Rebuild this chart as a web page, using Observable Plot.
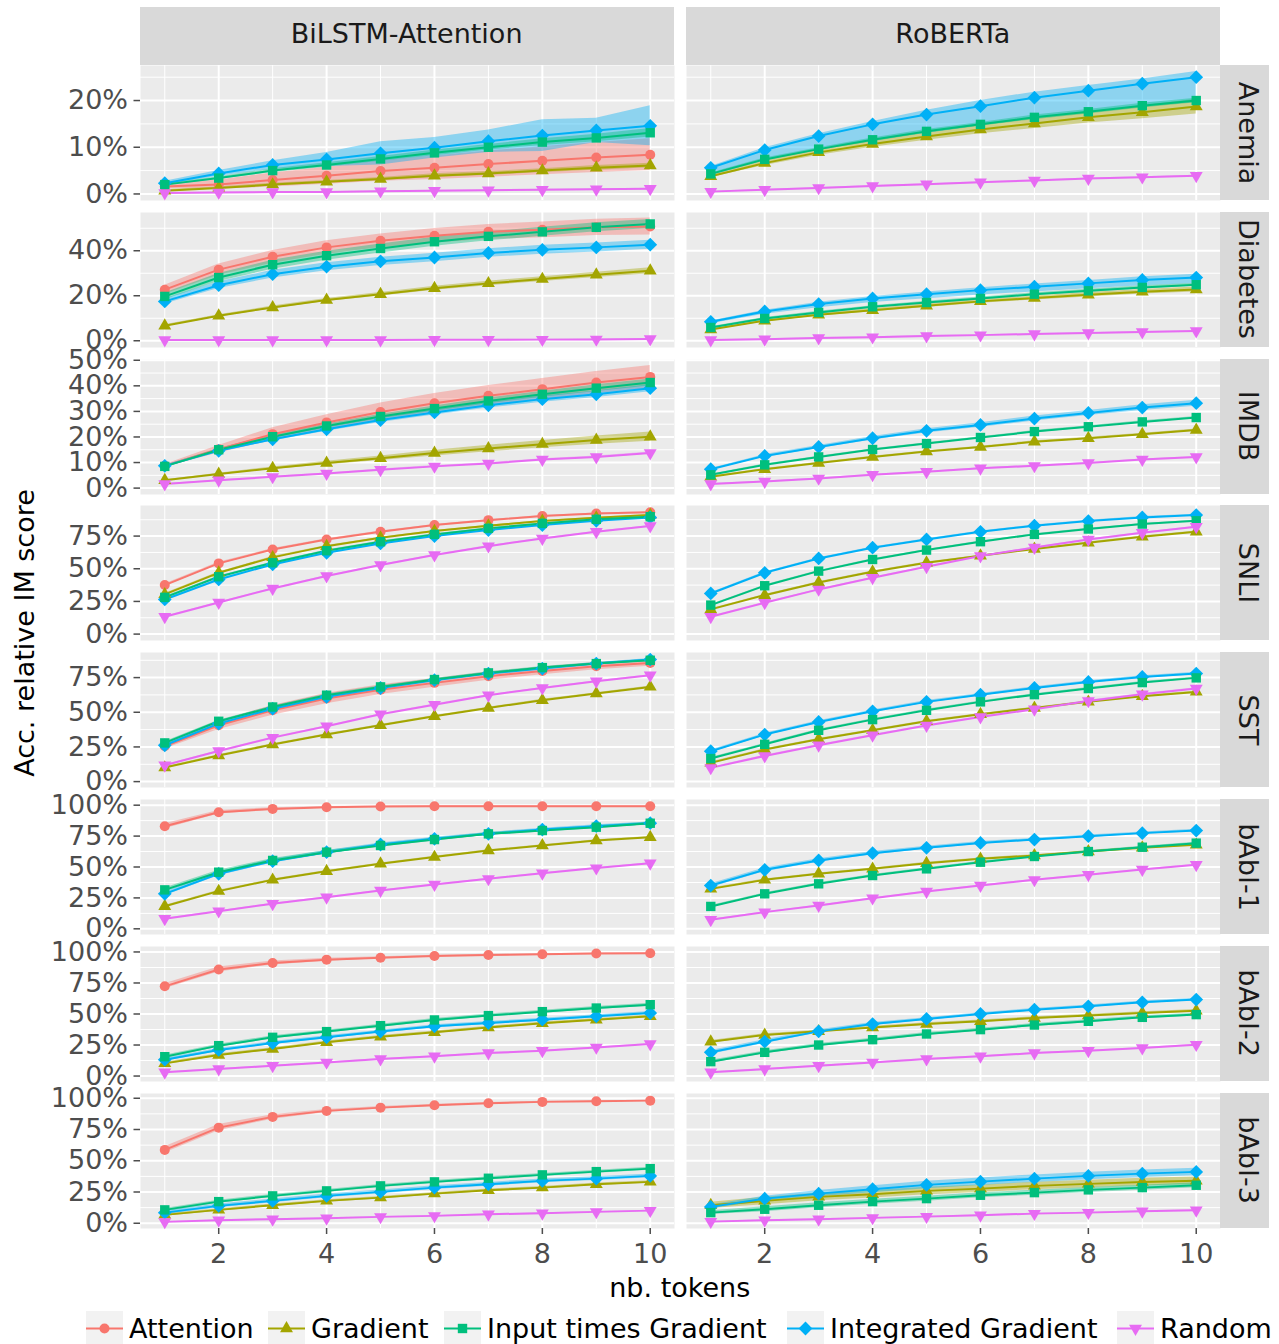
<!DOCTYPE html>
<html><head><meta charset="utf-8">
<script src="https://cdn.jsdelivr.net/npm/d3@7"></script>
<script src="https://cdn.jsdelivr.net/npm/@observablehq/plot@0.6"></script>
<style>
body{margin:0;background:#fff;font-family:"DejaVu Sans",sans-serif;}
#root{position:relative;width:1279px;height:1344px;overflow:hidden;}
.strip{position:absolute;background:#D9D9D9;color:#1A1A1A;font-size:27px;box-sizing:border-box;}
.lbl{position:absolute;font-size:27px;line-height:31px;white-space:nowrap;}
.leg{position:absolute;top:1311px;display:flex;align-items:center;height:35px;font-size:27px;line-height:35px;white-space:nowrap;color:#000;}
.leg svg{display:block;margin-right:6px;}
</style></head><body><div id="root"></div>
<script>
// ---------- categories ----------
const methods = ["Attention","Gradient","Input times Gradient","Integrated Gradient","Random"];
const colors = ["#F8766D","#A3A500","#00BF7D","#00B0F6","#E76BF3"];
const models = ["BiLSTM-Attention","RoBERTa"];
const datasets = ["Anemia","Diabetes","IMDB","SNLI","SST","bAbI-1","bAbI-2","bAbI-3"];
const tokens = [1,2,3,4,5,6,7,8,9,10];
const xTicks = [2,4,6,8,10];

// ---------- y tick labels (percent) ----------
const anemiaTicks = [0,10,20];
const diabetesTicks = [0,20,40];
const imdbTicks = [0,10,20,30,40,50];
const snliTicks = [0,25,50,75];
const sstTicks = [0,25,50,75];
const babiTicks = [0,25,50,75,100];

// ---------- series means (rows: Attention, Gradient, Input times Gradient, Integrated Gradient, Random) ----------
const anemia_bilstm = [
 [1.6,2.0,3.0,3.9,4.9,5.6,6.4,7.1,7.8,8.4],
 [0.7,1.3,2.0,2.6,3.2,3.9,4.4,5.0,5.6,6.1],
 [2.0,3.4,5.0,6.2,7.5,8.8,10.0,11.1,12.0,13.1],
 [2.3,4.4,6.2,7.4,8.7,9.9,11.3,12.5,13.6,14.6],
 [0.2,0.3,0.4,0.4,0.6,0.7,0.8,0.9,1.0,1.1]];
const anemia_roberta = [null,
 [3.8,6.6,8.9,10.7,12.3,13.8,15.1,16.4,17.5,18.7],
 [4.3,7.4,9.6,11.6,13.4,14.9,16.4,17.6,18.9,20.0],
 [5.6,9.4,12.4,14.9,17.0,18.8,20.6,22.1,23.6,25.0],
 [0.5,0.9,1.3,1.7,2.1,2.5,2.9,3.3,3.6,3.9]];
const diabetes_bilstm = [
 [22.7,31.6,37.3,41.5,44.4,46.7,48.4,49.3,50.4,50.8],
 [6.7,11.1,14.8,18.1,20.7,23.3,25.5,27.4,29.3,31.1],
 [19.7,28.1,33.8,37.8,41.0,44.0,46.4,48.4,50.4,51.9],
 [17.5,24.7,29.6,32.9,35.3,37.0,39.0,40.4,41.5,42.7],
 [0.3,0.3,0.3,0.3,0.3,0.4,0.4,0.5,0.6,0.8]];
const diabetes_roberta = [null,
 [5.0,8.9,11.6,13.6,15.6,17.5,19.0,20.4,21.8,22.8],
 [5.9,9.9,12.6,15.1,17.0,18.8,20.7,22.2,23.7,24.9],
 [8.4,13.0,16.3,18.8,20.7,22.5,24.0,25.5,27.0,28.1],
 [0.3,0.7,1.2,1.6,2.1,2.5,3.0,3.4,3.9,4.3]];
const imdb_bilstm = [
 [8.7,15.2,21.1,25.7,29.8,33.2,36.1,38.7,41.3,43.5],
 [3.1,5.5,7.8,9.8,11.7,13.7,15.5,17.2,18.8,20.1],
 [8.5,15.0,20.1,24.3,28.0,31.1,34.1,36.7,39.1,41.3],
 [8.7,14.6,19.1,23.0,26.6,29.6,32.4,34.8,36.7,39.1],
 [1.6,3.1,4.4,5.7,7.2,8.5,9.6,11.2,12.2,13.7]];
const imdb_roberta = [null,
 [4.4,7.4,9.8,12.2,14.3,16.1,18.1,19.5,21.1,22.7],
 [5.2,9.1,12.2,15.1,17.4,19.8,22.1,24.0,25.9,27.6],
 [7.4,12.6,16.1,19.5,22.4,24.7,27.2,29.4,31.5,33.2],
 [1.6,2.6,3.8,5.2,6.4,7.8,8.7,9.8,11.2,12.2]];
const snli_bilstm = [
 [37.5,54.1,64.8,72.4,78.3,83.4,87.2,90.3,92.3,93.2],
 [30.4,46.9,58.7,67.3,73.7,78.8,82.9,86.5,89.0,91.1],
 [28.1,43.9,54.6,63.8,70.7,76.3,80.9,84.7,87.8,89.8],
 [26.5,41.8,53.3,62.2,69.4,75.0,79.6,83.4,86.7,89.3],
 [13.3,24.2,34.9,44.4,52.8,60.5,67.3,73.2,78.3,82.7]];
const snli_roberta = [null,
 [18.9,29.8,39.5,47.7,54.6,59.9,65.1,69.9,74.5,78.3],
 [22.2,37.0,48.2,57.1,64.3,70.7,76.3,80.4,84.2,86.7],
 [31.1,46.9,57.9,66.1,72.4,78.3,82.9,86.5,89.3,91.1],
 [13.3,24.0,34.2,43.1,51.5,59.7,66.3,72.4,77.6,82.1]];
const sst_bilstm = [
 [25.5,40.6,51.4,59.9,66.3,71.2,76.0,79.8,83.2,85.6],
 [10.1,18.8,26.7,33.9,40.6,47.1,53.1,58.7,63.5,68.3],
 [27.9,43.5,53.8,62.3,68.3,73.6,78.4,82.2,85.1,87.5],
 [26.2,41.8,52.6,61.1,67.5,73.1,77.9,81.5,85.1,88.0],
 [11.8,22.1,31.7,39.9,48.6,55.5,62.3,67.5,72.4,76.7]];
const sst_roberta = [null,
 [13.5,23.1,30.5,37.0,43.5,48.6,53.1,57.5,61.5,64.7],
 [16.6,26.9,37.0,44.7,51.4,57.5,62.7,67.1,71.4,74.8],
 [21.9,33.9,43.0,50.7,57.5,62.7,67.5,71.9,75.5,77.9],
 [9.9,18.5,26.2,33.4,40.4,46.6,52.2,58.2,63.0,67.1]];
const babi1_bilstm = [
 [83.0,94.3,97.0,98.4,98.9,99.2,99.2,99.2,99.2,99.2],
 [18.3,30.5,39.6,46.6,52.6,58.0,63.3,67.4,71.4,74.1],
 [31.5,45.8,55.3,62.0,67.4,72.2,76.8,79.5,82.2,85.4],
 [28.3,44.5,54.7,62.0,68.2,72.8,76.8,80.3,83.0,85.4],
 [8.1,14.3,20.2,25.6,31.0,35.8,40.4,45.0,49.1,53.1]];
const babi1_roberta = [null,
 [32.3,39.6,44.5,48.5,53.1,56.6,59.3,62.5,65.5,67.9],
 [18.1,28.3,36.4,43.1,48.5,53.9,58.5,62.5,66.0,69.3],
 [35.0,47.7,55.3,61.2,65.5,69.5,72.2,74.9,77.4,79.5],
 [7.3,13.5,18.9,24.8,30.2,35.0,39.6,43.7,48.0,51.8]];
const babi2_bilstm = [
 [72.3,85.8,91.1,93.8,95.4,96.8,97.6,98.1,98.7,98.9],
 [10.2,16.9,21.8,27.2,31.7,35.2,39.2,42.5,45.4,48.1],
 [15.6,24.5,31.2,35.8,40.6,45.2,48.7,51.9,54.8,57.5],
 [13.2,21.0,26.6,31.2,35.8,40.1,42.7,45.4,48.1,50.8],
 [3.0,5.6,8.3,11.0,13.7,15.9,18.5,20.4,23.1,25.8]];
const babi2_roberta = [null,
 [27.7,33.1,36.0,39.2,41.9,44.1,46.8,48.7,50.8,52.7],
 [11.6,19.1,25.0,29.3,33.9,37.4,41.1,44.1,47.3,49.5],
 [19.1,27.7,36.0,41.9,46.0,50.0,53.5,56.2,59.4,61.6],
 [3.0,5.6,8.3,11.0,13.7,15.9,18.5,20.4,22.6,25.3]];
const babi3_bilstm = [
 [58.7,76.5,85.1,89.9,92.5,94.4,96.0,97.1,97.6,98.1],
 [6.7,10.7,14.4,17.9,20.5,23.7,26.4,28.5,31.2,33.1],
 [10.7,17.3,21.9,25.9,29.9,33.1,36.0,38.7,41.3,43.7],
 [8.5,13.9,17.9,21.9,25.1,28.5,31.2,33.9,35.7,37.9],
 [1.1,2.4,3.2,4.0,5.1,5.9,7.2,8.0,9.1,10.1]];
const babi3_roberta = [null,
 [14.4,17.9,21.1,23.2,25.9,27.7,29.9,31.5,33.0,34.0],
 [8.5,11.2,14.4,17.3,19.7,22.4,24.5,26.7,28.5,30.4],
 [13.1,19.7,23.7,27.2,30.7,33.3,35.7,37.9,39.7,41.1],
 [1.3,2.4,3.2,4.3,5.3,6.4,7.7,8.5,9.6,10.4]];

// ---------- confidence band half-widths (upper; lower too unless a *_ciLo row is given) ----------
const anemia_bilstm_ci = [
 [0.5,1.0,1.5,1.8,2.2,2.5,2.8,3.0,3.2,3.4],
 [0.2,0.2,0.3,0.3,0.3,0.4,0.4,0.4,0.5,0.5],
 [0.2,0.3,0.4,0.5,0.5,0.6,0.6,0.7,0.8,0.9],
 [0.4,0.6,0.9,1.5,2.5,2.2,2.4,3.4,2.6,4.3],
 [0.1,0.1,0.1,0.1,0.1,0.1,0.1,0.1,0.1,0.1]];
const anemia_roberta_ci = [null,
 [0.3,0.5,0.6,0.7,0.8,0.9,1.1,1.2,1.4,1.6],
 [0.2,0.3,0.3,0.4,0.4,0.4,0.5,0.5,0.5,0.5],
 [0.3,0.5,0.5,0.6,0.9,1.2,1.2,1.1,1.0,1.2],
 [0.1,0.1,0.1,0.1,0.1,0.1,0.1,0.1,0.1,0.1]];
const anemia_roberta_ciLo = [null,null,null,
 [1.7,2.3,2.8,3.5,4.0,4.2,4.5,4.6,4.9,5.4],null];
const diabetes_bilstm_ci = [
 [2.0,2.5,2.8,3.0,3.0,3.2,3.3,3.5,3.6,3.8],
 [0.4,0.5,0.6,0.7,0.8,0.9,1.0,1.1,1.2,1.3],
 [1.5,1.8,2.0,2.0,2.0,2.0,2.0,2.0,2.0,2.0],
 [1.2,1.5,1.7,1.8,1.8,1.9,1.9,2.0,2.0,2.0],
 [0.2,0.2,0.2,0.2,0.2,0.2,0.2,0.2,0.2,0.2]];
const diabetes_roberta_ci = [null,
 [0.3,0.5,0.6,0.7,0.8,0.8,0.9,1.0,1.0,1.1],
 [0.3,0.4,0.5,0.5,0.6,0.6,0.6,0.7,0.7,0.7],
 [0.4,0.6,0.8,0.9,1.0,1.1,1.2,1.3,1.4,1.5],
 [0.2,0.2,0.2,0.2,0.2,0.2,0.2,0.2,0.2,0.2]];
const diabetes_roberta_ciLo = [null,null,null,
 [0.8,1.2,1.6,1.8,2.0,2.2,2.3,2.4,2.5,2.6],null];
const imdb_bilstm_ci = [
 [0.5,1.5,2.5,3.0,3.5,3.8,4.0,4.2,4.3,4.5],
 [0.2,0.3,0.5,0.7,0.9,1.1,1.3,1.4,1.6,1.8],
 [0.3,0.5,0.7,0.8,0.9,1.0,1.1,1.2,1.3,1.4],
 [0.3,0.5,0.7,0.8,0.9,1.0,1.1,1.2,1.3,1.4],
 [0.1,0.2,0.2,0.2,0.3,0.3,0.3,0.3,0.4,0.4]];
const imdb_roberta_ci = [null,
 [0.2,0.3,0.3,0.3,0.3,0.3,0.4,0.4,0.4,0.4],
 [0.2,0.3,0.3,0.3,0.3,0.3,0.4,0.4,0.4,0.4],
 [0.3,0.5,0.6,0.7,0.8,0.9,1.0,1.0,1.1,1.2],
 [0.2,0.2,0.2,0.2,0.2,0.2,0.2,0.2,0.2,0.2]];
const snli_bilstm_ci = [
 [0.8,0.8,0.7,0.6,0.6,0.5,0.5,0.4,0.4,0.4],
 [0.6,0.6,0.6,0.5,0.5,0.5,0.4,0.4,0.4,0.4],
 [0.6,0.6,0.6,0.5,0.5,0.5,0.4,0.4,0.4,0.4],
 [0.6,0.6,0.6,0.5,0.5,0.5,0.4,0.4,0.4,0.4],
 [0.4,0.4,0.4,0.4,0.4,0.4,0.4,0.4,0.4,0.4]];
const snli_roberta_ci = [null,
 [0.5,0.5,0.5,0.5,0.5,0.5,0.5,0.5,0.5,0.5],
 [0.5,0.5,0.5,0.5,0.5,0.5,0.5,0.5,0.5,0.5],
 [0.6,0.6,0.6,0.6,0.6,0.6,0.6,0.6,0.6,0.6],
 [0.4,0.4,0.4,0.4,0.4,0.4,0.4,0.4,0.4,0.4]];
const sst_bilstm_ci = [
 [2.0,3.0,3.5,3.8,3.5,3.2,3.0,2.8,2.6,2.4],
 [0.6,0.6,0.6,0.6,0.6,0.6,0.6,0.6,0.6,0.6],
 [0.8,0.8,0.8,0.8,0.8,0.8,0.8,0.8,0.8,0.8],
 [0.8,0.8,0.8,0.8,0.8,0.8,0.8,0.8,0.8,0.8],
 [0.4,0.4,0.4,0.4,0.4,0.4,0.4,0.4,0.4,0.4]];
const sst_roberta_ci = [null,
 [0.6,0.6,0.6,0.6,0.6,0.6,0.6,0.6,0.6,0.6],
 [0.7,0.7,0.7,0.7,0.7,0.7,0.7,0.7,0.7,0.7],
 [0.9,0.9,0.9,0.9,0.9,0.9,0.9,0.9,0.9,0.9],
 [0.5,0.5,0.5,0.5,0.5,0.5,0.5,0.5,0.5,0.5]];
const babi1_bilstm_ci = [
 [2.0,1.5,1.0,0.6,0.4,0.3,0.3,0.2,0.2,0.2],
 [0.6,0.6,0.6,0.6,0.6,0.6,0.6,0.6,0.6,0.6],
 [1.5,1.5,1.5,1.4,1.3,1.2,1.2,1.1,1.1,1.0],
 [1.5,1.5,1.5,1.4,1.3,1.2,1.2,1.1,1.1,1.0],
 [0.4,0.4,0.4,0.4,0.4,0.4,0.4,0.4,0.4,0.4]];
const babi1_roberta_ci = [null,
 [0.7,0.7,0.7,0.7,0.7,0.7,0.7,0.7,0.7,0.7],
 [0.8,0.8,0.8,0.8,0.8,0.8,0.8,0.8,0.8,0.8],
 [1.5,1.5,1.4,1.3,1.2,1.1,1.0,1.0,1.0,1.0],
 [0.4,0.4,0.4,0.4,0.4,0.4,0.4,0.4,0.4,0.4]];
const babi2_bilstm_ci = [
 [2.0,2.0,1.6,1.2,0.8,0.6,0.5,0.4,0.4,0.3],
 [1.0,1.0,1.0,1.0,1.0,1.0,1.0,1.0,1.0,1.0],
 [1.2,1.2,1.2,1.2,1.2,1.2,1.2,1.2,1.2,1.2],
 [1.2,1.2,1.2,1.2,1.2,1.2,1.2,1.2,1.2,1.2],
 [0.4,0.4,0.4,0.4,0.4,0.4,0.4,0.4,0.4,0.4]];
const babi2_roberta_ci = [null,
 [1.0,1.0,1.0,1.0,1.0,1.0,1.0,1.0,1.0,1.0],
 [1.2,1.2,1.2,1.2,1.2,1.2,1.2,1.2,1.2,1.2],
 [1.5,1.5,1.3,1.2,1.0,1.0,1.0,1.0,1.0,1.0],
 [0.4,0.4,0.4,0.4,0.4,0.4,0.4,0.4,0.4,0.4]];
const babi3_bilstm_ci = [
 [2.5,2.5,1.8,1.2,1.0,0.8,0.6,0.5,0.4,0.3],
 [1.0,1.0,1.0,1.0,1.0,1.0,1.0,1.0,1.0,1.0],
 [1.2,1.2,1.2,1.2,1.2,1.2,1.2,1.2,1.2,1.2],
 [1.5,1.5,1.5,1.5,1.5,1.5,1.5,1.5,1.5,1.5],
 [0.4,0.4,0.4,0.4,0.4,0.4,0.4,0.4,0.4,0.4]];
const babi3_roberta_ci = [null,
 [2.5,3.0,3.0,3.0,3.0,3.0,3.0,3.0,3.0,3.0],
 [1.5,2.0,2.0,2.0,2.0,2.0,2.0,2.0,2.0,2.0],
 [1.5,2.0,2.5,2.8,3.0,3.0,3.0,3.0,3.0,3.0],
 [0.4,0.4,0.4,0.4,0.4,0.4,0.4,0.4,0.4,0.4]];

// ---------- assemble ----------
const rowSpecs = [
 {name:"Anemia",   ticks:anemiaTicks,   domain:[-1.4,27.5],  means:[anemia_bilstm,anemia_roberta],     ci:[anemia_bilstm_ci,anemia_roberta_ci],     ciLo:[null,anemia_roberta_ciLo]},
 {name:"Diabetes", ticks:diabetesTicks, domain:[-3.0,57.0],  means:[diabetes_bilstm,diabetes_roberta], ci:[diabetes_bilstm_ci,diabetes_roberta_ci], ciLo:[null,diabetes_roberta_ciLo]},
 {name:"IMDB",     ticks:imdbTicks,     domain:[-2.5,50.3],  means:[imdb_bilstm,imdb_roberta],         ci:[imdb_bilstm_ci,imdb_roberta_ci],         ciLo:[null,null]},
 {name:"SNLI",     ticks:snliTicks,     domain:[-4.9,98.4],  means:[snli_bilstm,snli_roberta],         ci:[snli_bilstm_ci,snli_roberta_ci],         ciLo:[null,null]},
 {name:"SST",      ticks:sstTicks,      domain:[-4.25,93.1], means:[sst_bilstm,sst_roberta],           ci:[sst_bilstm_ci,sst_roberta_ci],           ciLo:[null,null]},
 {name:"bAbI-1",   ticks:babiTicks,     domain:[-4.6,104.6], means:[babi1_bilstm,babi1_roberta],       ci:[babi1_bilstm_ci,babi1_roberta_ci],       ciLo:[null,null]},
 {name:"bAbI-2",   ticks:babiTicks,     domain:[-4.4,104.4], means:[babi2_bilstm,babi2_roberta],       ci:[babi2_bilstm_ci,babi2_roberta_ci],       ciLo:[null,null]},
 {name:"bAbI-3",   ticks:babiTicks,     domain:[-4.2,103.8], means:[babi3_bilstm,babi3_roberta],       ci:[babi3_bilstm_ci,babi3_roberta_ci],       ciLo:[null,null]}
];
const drawOrder = [0,1,3,2,4]; // Attention, Gradient, Integrated Gradient, Input times Gradient, Random

const downTriangle = {draw(ctx, size){ const s3 = Math.sqrt(3); const y = Math.sqrt(size/(s3*3)); ctx.moveTo(0, 2*y); ctx.lineTo(-s3*y, -y); ctx.lineTo(s3*y, -y); ctx.closePath(); }};
const symbols = [d3.symbolCircle, d3.symbolTriangle, d3.symbolSquare, d3.symbolDiamond2, downTriangle];
const radii = [5, 4.8, 5.3, 6.2, 4.8];

function rowData(spec){
  const out = [];
  spec.means.forEach((panel, j) => {
    drawOrder.forEach(k => {
      const m = panel[k]; if (!m) return;
      const up = spec.ci[j][k];
      const dn = (spec.ciLo[j] && spec.ciLo[j][k]) || up;
      tokens.forEach((t, i) => out.push({model: models[j], method: methods[k], x: t, y: m[i], lo: m[i]-dn[i], hi: m[i]+up[i]}));
    });
  });
  return out;
}
function minorOf(ticks, domain){
  const step = ticks[1]-ticks[0], res = [];
  for (let v = ticks[0]-step/2; v <= domain[1]; v += step) if (v >= domain[0]) res.push(v);
  return res;
}

const root = document.getElementById("root");
const panelLeft = 139.5, panelRight = 1220, gap = 12;
const facetW = (panelRight - panelLeft - gap)/2;
const rowTop0 = 65, rowStep = 146.8, rowH = 135;

rowSpecs.forEach((spec, i) => {
  const last = i === rowSpecs.length - 1;
  const mt = 6, mb = last ? 60 : 6;
  const d = rowData(spec);
  const marks = [
    Plot.frame({fill: "#EBEBEB", stroke: "none"}),
    Plot.ruleY(minorOf(spec.ticks, spec.domain), {stroke: "white", strokeWidth: 1}),
    Plot.ruleX([1,3,5,7,9], {stroke: "white", strokeWidth: 1}),
    Plot.ruleY(spec.ticks, {stroke: "white", strokeWidth: 2}),
    Plot.ruleX(xTicks, {stroke: "white", strokeWidth: 2}),
    Plot.areaY(d, {x: "x", y1: "lo", y2: "hi", fill: "method", z: "method", fillOpacity: 0.4, fx: "model"}),
    Plot.line(d, {x: "x", y: "y", stroke: "method", z: "method", strokeWidth: 2, fx: "model"}),
    ...drawOrder.map(k => Plot.dot(d.filter(p => p.method === methods[k]), {x: "x", y: "y", fx: "model", fill: colors[k], stroke: "none", r: radii[k], symbol: symbols[k]})),
    Plot.axisY(spec.ticks, {tickFormat: v => v + "%", tickSize: 6.5, tickPadding: 6, fontSize: 27, color: "#4D4D4D", strokeWidth: 1.5, label: null})
  ];
  if (last) marks.push(Plot.axisX(xTicks, {tickFormat: v => String(v), tickSize: 6, tickPadding: 9, fontSize: 27, color: "#4D4D4D", strokeWidth: 1.5, label: null}));
  const svg = Plot.plot({
    width: 1279, height: rowH + mt + mb,
    marginLeft: panelLeft, marginRight: 1279 - panelRight, marginTop: mt, marginBottom: mb,
    fx: {domain: models, axis: null, paddingInner: gap/(facetW+gap), paddingOuter: 0, label: null},
    x: {domain: [0.55, 10.45], axis: last ? undefined : null, label: null},
    y: {domain: spec.domain, label: null},
    color: {domain: methods, range: colors},
    style: {fontFamily: "DejaVu Sans", fontSize: "27px", overflow: "visible", background: "transparent"},
    marks
  });
  const top = rowTop0 + rowStep*i;
  svg.style.position = "absolute"; svg.style.left = "0px"; svg.style.top = (top - mt) + "px";
  root.appendChild(svg);

  // right strip
  const rs = document.createElement("div");
  rs.className = "strip";
  Object.assign(rs.style, {left: panelRight + "px", top: top + "px", width: "49px", height: rowH + "px"});
  const rt = document.createElement("div");
  rt.className = "lbl"; rt.textContent = spec.name; rt.style.color = "#1A1A1A";
  Object.assign(rt.style, {left: "28.4px", top: (rowH/2) + "px", transform: "translate(-50%,-50%) rotate(90deg)"});
  rs.appendChild(rt);
  root.appendChild(rs);
});

// top strips
models.forEach((m, j) => {
  const s = document.createElement("div");
  s.className = "strip";
  Object.assign(s.style, {left: (panelLeft + j*(facetW+gap)) + "px", top: "7px", width: facetW + "px", height: "58px", textAlign: "center", lineHeight: "31px", paddingTop: "11.4px"});
  s.textContent = m;
  root.appendChild(s);
});

// axis titles
const xt = document.createElement("div");
xt.className = "lbl"; xt.textContent = "nb. tokens";
Object.assign(xt.style, {left: ((panelLeft+panelRight)/2) + "px", top: "1272px", transform: "translateX(-50%)"});
root.appendChild(xt);
const yt = document.createElement("div");
yt.className = "lbl"; yt.textContent = "Acc. relative IM score";
Object.assign(yt.style, {left: "24px", top: "633px", transform: "translate(-50%,-50%) rotate(-90deg)"});
root.appendChild(yt);

// legend
const legendLeft = [86, 268, 444, 787, 1117];
methods.forEach((m, k) => {
  const item = document.createElement("div");
  item.className = "leg"; item.style.left = legendLeft[k] + "px";
  const ns = "http://www.w3.org/2000/svg";
  const svg = document.createElementNS(ns, "svg");
  svg.setAttribute("width", 37); svg.setAttribute("height", 35);
  const bg = document.createElementNS(ns, "rect");
  bg.setAttribute("width", 37); bg.setAttribute("height", 35); bg.setAttribute("fill", "#F2F2F2");
  const ln = document.createElementNS(ns, "line");
  ln.setAttribute("x1", 0); ln.setAttribute("x2", 37); ln.setAttribute("y1", 17.5); ln.setAttribute("y2", 17.5);
  ln.setAttribute("stroke", colors[k]); ln.setAttribute("stroke-width", 2);
  const p = document.createElementNS(ns, "path");
  p.setAttribute("d", d3.symbol().type(symbols[k]).size(Math.PI*radii[k]*radii[k])());
  p.setAttribute("transform", "translate(18.5,17.5)"); p.setAttribute("fill", colors[k]);
  svg.append(bg, ln, p);
  const t = document.createElement("span"); t.textContent = m;
  item.append(svg, t);
  root.appendChild(item);
});
</script></body></html>
